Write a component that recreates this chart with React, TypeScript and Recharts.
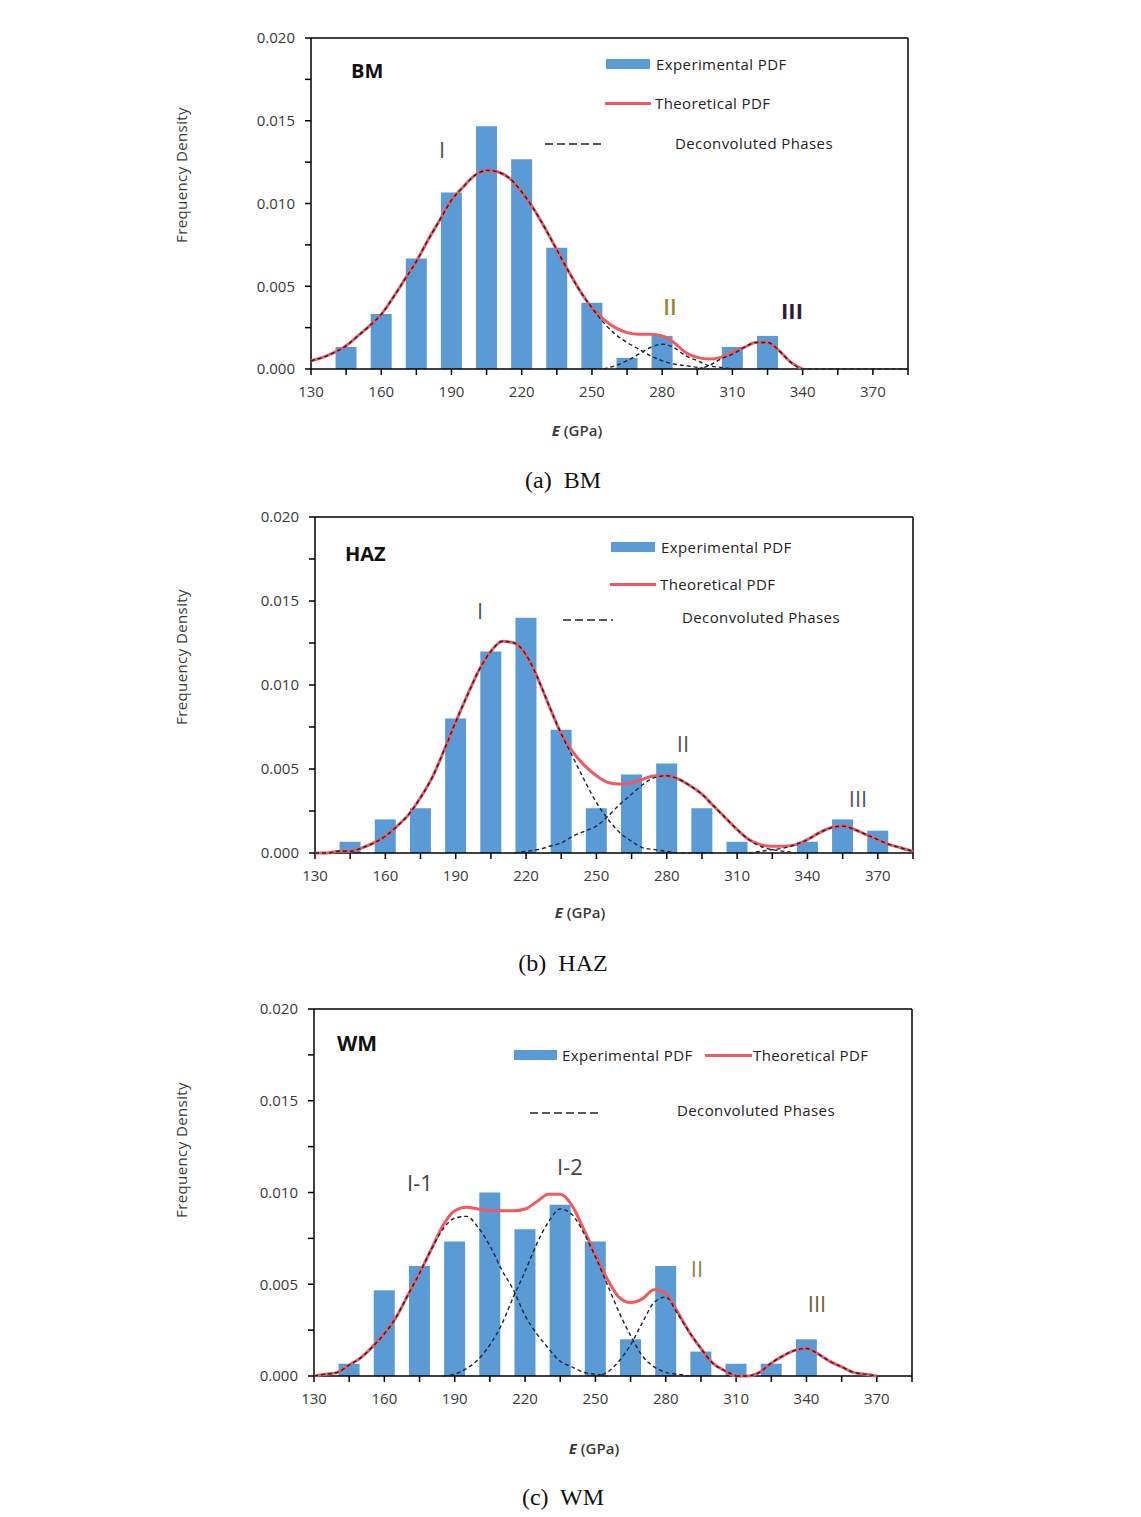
import { ComposedChart, Bar, Line, XAxis, YAxis, ReferenceLine } from 'recharts'

// E grid (GPa) for the fitted curves
const E_GRID = [
  130, 135, 140, 145, 150, 155, 160, 165, 170, 175,
  180, 185, 190, 195, 200, 205, 210, 215, 220, 225,
  230, 235, 240, 245, 250, 255, 260, 265, 270, 275,
  280, 285, 290, 295, 300, 305, 310, 315, 320, 325,
  330, 335, 340, 345, 350, 355, 360, 365, 370, 375,
  380, 385,
]

// histogram bin centres
const BIN_E = [145, 160, 175, 190, 205, 220, 235, 250, 265, 280, 295, 310, 325, 340, 355, 370]

const X_TICKS = [130, 145, 160, 175, 190, 205, 220, 235, 250, 265, 280, 295, 310, 325, 340, 355, 370, 385]
const Y_TICKS = [0, 0.0025, 0.005, 0.0075, 0.01, 0.0125, 0.015, 0.0175, 0.02]

// ---- BM ----
const BM_EXP = [0.00133, 0.00333, 0.00667, 0.01067, 0.01467, 0.01267, 0.00733, 0.004, 0.00067, 0.002, 0, 0.00133, 0.002, 0, 0, 0]
const BM_THEO = [
  0.0005, 0.0007, 0.001, 0.0014, 0.002, 0.0026, 0.0033, 0.0043, 0.0054, 0.0065,
  0.0078, 0.009, 0.0102, 0.011, 0.0117, 0.012, 0.0119, 0.0115, 0.0107, 0.0097,
  0.0085, 0.0072, 0.0059, 0.0047, 0.0037, 0.003, 0.0025, 0.0022, 0.0021, 0.0021,
  0.002, 0.0016, 0.001, 0.0007, 0.0006, 0.0007, 0.001, 0.0013, 0.0016, 0.0016,
  0.0011, 0.0004, 0, null, null, null, null, null, null, null,
  null, null,
]
const BM_P1 = [
  0.0005, 0.0007, 0.001, 0.0014, 0.002, 0.0026, 0.0033, 0.0043, 0.0054, 0.0065,
  0.0078, 0.009, 0.0102, 0.011, 0.0117, 0.012, 0.0119, 0.0115, 0.0107, 0.0097,
  0.0085, 0.0072, 0.0059, 0.0047, 0.0037, 0.0028, 0.0021, 0.0016, 0.0012, 0.0008,
  0.0005, 0.0003, 0.0002, 0.0001, 0, null, null, null, null, null,
  null, null, null, null, null, null, null, null, null, null,
  null, null,
]
const BM_P2 = [
  null, null, null, null, null, null, null, null, null, null,
  null, null, null, null, null, null, null, null, null, null,
  null, null, null, null, null, 0, 0.0002, 0.0005, 0.0009, 0.0013,
  0.0015, 0.0013, 0.0008, 0.0005, 0.0002, 0.0001, 0, null, null, null,
  null, null, null, null, null, null, null, null, null, null,
  null, null,
]
const BM_P3 = [
  null, null, null, null, null, null, null, null, null, null,
  null, null, null, null, null, null, null, null, null, null,
  null, null, null, null, null, null, null, null, null, null,
  null, null, null, 0, 0.0002, 0.0006, 0.0009, 0.0013, 0.0016, 0.0016,
  0.0011, 0.0004, 0, 0, 0, 0, 0, 0, 0, 0,
  0, 0,
]

// ---- HAZ ----
const HAZ_EXP = [0.00067, 0.002, 0.00267, 0.008, 0.012, 0.014, 0.00733, 0.00267, 0.00467, 0.00533, 0.00267, 0.00067, 0, 0.00067, 0.002, 0.00133]
const HAZ_THEO = [
  0, 0, 0.0001, 0.0001, 0.0003, 0.0006, 0.001, 0.0016, 0.0023, 0.0033,
  0.0045, 0.0061, 0.0078, 0.0094, 0.0109, 0.012, 0.0126, 0.0125, 0.0118, 0.0104,
  0.0087, 0.0071, 0.006, 0.0052, 0.0046, 0.0042, 0.0041, 0.0042, 0.0044, 0.0046,
  0.0046, 0.0044, 0.004, 0.0035, 0.0028, 0.0021, 0.0014, 0.0008, 0.0005, 0.0004,
  0.0004, 0.0005, 0.0008, 0.0012, 0.0015, 0.0016, 0.0014, 0.0011, 0.0008, 0.0005,
  0.0003, 0.0001,
]
const HAZ_P1 = [
  0, 0, 0.0001, 0.0001, 0.0003, 0.0006, 0.001, 0.0016, 0.0023, 0.0033,
  0.0045, 0.0061, 0.0078, 0.0094, 0.0109, 0.012, 0.0126, 0.0125, 0.0118, 0.0104,
  0.0087, 0.0071, 0.0057, 0.0043, 0.003, 0.002, 0.0012, 0.0007, 0.0003, 0.0002,
  0.0001, 0, 0, 0, 0, null, null, null, null, null,
  null, null, null, null, null, null, null, null, null, null,
  null, null,
]
const HAZ_P2 = [
  null, null, null, null, null, null, null, null, null, null,
  null, null, null, null, null, null, null, 0, 0.0001, 0.0002,
  0.0004, 0.0006, 0.001, 0.0013, 0.0016, 0.0022, 0.0029, 0.0035, 0.0041, 0.0045,
  0.0046, 0.0044, 0.004, 0.0035, 0.0028, 0.0021, 0.0014, 0.0008, 0.0004, 0.0002,
  0.0001, 0, null, null, null, null, null, null, null, null,
  null, null,
]
const HAZ_P3 = [
  null, null, null, null, null, null, null, null, null, null,
  null, null, null, null, null, null, null, null, null, null,
  null, null, null, null, null, null, null, null, null, null,
  null, null, null, null, null, null, null, 0, 0.0001, 0.0002,
  0.0003, 0.0005, 0.0008, 0.0012, 0.0015, 0.0016, 0.0014, 0.0011, 0.0008, 0.0005,
  0.0003, 0.0001,
]

// ---- WM ----
const WM_EXP = [0.00067, 0.00467, 0.006, 0.00733, 0.01, 0.008, 0.00933, 0.00733, 0.002, 0.006, 0.00133, 0.00067, 0.00067, 0.002, 0, 0]
const WM_THEO = [
  0, 0.0001, 0.0002, 0.0006, 0.001, 0.0016, 0.0023, 0.0032, 0.0044, 0.0056,
  0.0069, 0.0082, 0.009, 0.0092, 0.0091, 0.009, 0.009, 0.009, 0.0091, 0.0095,
  0.0099, 0.0099, 0.0093, 0.008, 0.0066, 0.0053, 0.0043, 0.0040, 0.0042, 0.0047,
  0.0045, 0.0035, 0.0024, 0.0015, 0.0007, 0.0003, 0, 0, 0.0002, 0.0007,
  0.0011, 0.0014, 0.0015, 0.0012, 0.0008, 0.0005, 0.0002, 0.0001, 0, null,
  null, null,
]
const WM_P1 = [
  0, 0.0001, 0.0002, 0.0006, 0.001, 0.0016, 0.0023, 0.0032, 0.0044, 0.0056,
  0.0069, 0.008, 0.0086, 0.0087, 0.0081, 0.0071, 0.0058, 0.0047, 0.0033, 0.0023,
  0.0015, 0.0008, 0.0005, 0.0002, 0.0001, 0, null, null, null, null,
  null, null, null, null, null, null, null, null, null, null,
  null, null, null, null, null, null, null, null, null, null,
  null, null,
]
const WM_P2 = [
  null, null, null, null, null, null, null, null, null, null,
  null, 0, 0.0001, 0.0004, 0.0009, 0.0017, 0.0028, 0.0043, 0.0057, 0.0072,
  0.0084, 0.0091, 0.0088, 0.0078, 0.0065, 0.005, 0.0035, 0.0022, 0.0011, 0.0005,
  0.0002, 0.0001, 0, null, null, null, null, null, null, null,
  null, null, null, null, null, null, null, null, null, null,
  null, null,
]
const WM_P3 = [
  null, null, null, null, null, null, null, null, null, null,
  null, null, null, null, null, null, null, null, null, null,
  null, null, null, null, 0, 0.0002, 0.0008, 0.0017, 0.0029, 0.004,
  0.0043, 0.0034, 0.0024, 0.0015, 0.0007, 0.0003, 0, null, null, null,
  null, null, null, null, null, null, null, null, null, null,
  null, null,
]
const WM_P4 = [
  null, null, null, null, null, null, null, null, null, null,
  null, null, null, null, null, null, null, null, null, null,
  null, null, null, null, null, null, null, null, null, null,
  null, null, null, null, null, null, 0, 0, 0.0002, 0.0007,
  0.0011, 0.0014, 0.0015, 0.0012, 0.0008, 0.0005, 0.0002, 0.0001, 0, null,
  null, null,
]

type Row = { [k: string]: number | null }

const buildBars = (exp: number[]): Row[] => BIN_E.map((e, i) => ({ e, exp: exp[i] }))

const buildCurves = (theo: (number | null)[], phases: (number | null)[][]): Row[] =>
  E_GRID.map((e, i) => {
    const row: Row = { e, theo: theo[i] }
    phases.forEach((p, k) => { row['p' + k] = p[i] })
    return row
  })

const FONT = '"Open Sans", sans-serif'
const BLUE = '#5b9bd5'
const RED = '#ee5a5f'
const TXT = '#3a3a3a'

const tickStyle = { fontSize: 15, fill: TXT, fontFamily: FONT }

interface ChartProps {
  bars: Row[]
  curves: Row[]
  nPhases: number
  left: number
  top: number
  width: number
  height: number
}

const PAD_L = 90
const PAD_T = 10
const PAD_R = 10
const X_H = 40

// bars + axes underneath, curves drawn by a second chart with identical geometry on top
function PdfChart({ bars, curves, nPhases, left, top, width, height }: ChartProps) {
  const w = width + PAD_L + PAD_R
  const h = height + PAD_T + X_H
  const margin = { top: PAD_T, right: PAD_R, bottom: 0, left: 0 }
  return (
    <div style={{ position: 'absolute', left: left - PAD_L, top: top - PAD_T, width: w, height: h }}>
      <div style={{ position: 'absolute', left: 0, top: 0 }}>
        <ComposedChart width={w} height={h} data={bars} margin={margin}>
          <XAxis dataKey="e" type="number" domain={[130, 385]} ticks={X_TICKS} interval={0} height={X_H}
            tickFormatter={(v: number) => ((v - 130) % 30 === 0 ? String(v) : '')}
            tick={tickStyle} tickSize={6} tickMargin={11}
            axisLine={{ stroke: '#000', strokeWidth: 1.5 }} tickLine={{ stroke: '#000', strokeWidth: 1.5 }} />
          <YAxis type="number" domain={[0, 0.02]} ticks={Y_TICKS} interval={0} width={PAD_L}
            tickFormatter={(v: number) => (Math.round(v / 0.0025) % 2 === 0 ? v.toFixed(3) : '')}
            tick={tickStyle} tickSize={6} tickMargin={10}
            axisLine={{ stroke: '#000', strokeWidth: 1.5 }} tickLine={{ stroke: '#000', strokeWidth: 1.5 }} />
          <ReferenceLine y={0.02} stroke="#000" strokeWidth={1.5} />
          <ReferenceLine x={385} stroke="#000" strokeWidth={1.5} />
          <Bar dataKey="exp" fill={BLUE} barSize={21} isAnimationActive={false} />
        </ComposedChart>
      </div>
      <div style={{ position: 'absolute', left: 0, top: 0 }}>
        <ComposedChart width={w} height={h} data={curves} margin={margin}>
          <XAxis dataKey="e" type="number" domain={[130, 385]} height={X_H}
            tick={false} tickLine={false} axisLine={false} />
          <YAxis type="number" domain={[0, 0.02]} width={PAD_L}
            tick={false} tickLine={false} axisLine={false} />
          <Line dataKey="theo" type="monotone" stroke={RED} strokeWidth={3} dot={false} isAnimationActive={false} />
          {Array.from({ length: nPhases }, (_, k) => (
            <Line key={k} dataKey={'p' + k} type="monotone" stroke="#1f2233" strokeWidth={1.4}
              strokeDasharray="4 3" dot={false} isAnimationActive={false} />
          ))}
        </ComposedChart>
      </div>
    </div>
  )
}

const abs = (x: number, y: number, extra: React.CSSProperties = {}): React.CSSProperties => ({
  position: 'absolute', left: x, top: y, transform: 'translate(-50%, -50%)', whiteSpace: 'nowrap',
  fontFamily: FONT, color: TXT, ...extra,
})

const absL = (x: number, y: number, extra: React.CSSProperties = {}): React.CSSProperties => ({
  position: 'absolute', left: x, top: y, transform: 'translateY(-50%)', whiteSpace: 'nowrap',
  fontFamily: FONT, color: '#222', fontSize: 15, letterSpacing: 0.4, ...extra,
})

function Dashes({ x, y, w }: { x: number; y: number; w: number }) {
  return (
    <svg style={{ position: 'absolute', left: x, top: y - 2 }} width={w} height={4}>
      <line x1={0} y1={2} x2={w} y2={2} stroke="#222" strokeWidth={1.5} strokeDasharray="8 4" />
    </svg>
  )
}

function Swatch({ x, y, w }: { x: number; y: number; w: number }) {
  return <div style={{ position: 'absolute', left: x, top: y - 5, width: w, height: 10, background: BLUE }} />
}

function RedLine({ x, y, w }: { x: number; y: number; w: number }) {
  return <div style={{ position: 'absolute', left: x, top: y - 1.5, width: w, height: 3, background: RED }} />
}

function AxisTitles({ yMid, xMid, xY, capY, cap }: { yMid: number; xMid: number; xY: number; capY: number; cap: string }) {
  return (
    <>
      <div style={abs(181, yMid, { transform: 'translate(-50%, -50%) rotate(-90deg)', fontSize: 15, letterSpacing: 0.4 })}>
        Frequency Density
      </div>
      <div style={abs(xMid, xY, { fontSize: 15, fontWeight: 600 })}>
        <span style={{ fontStyle: 'italic', fontWeight: 700 }}>E</span> (GPa)
      </div>
      <div style={abs(563, capY, { fontFamily: '"Liberation Serif", serif', fontSize: 24, color: '#111', wordSpacing: 6 })}>
        {cap}
      </div>
    </>
  )
}

const bmBars = buildBars(BM_EXP)
const bmCurves = buildCurves(BM_THEO, [BM_P1, BM_P2, BM_P3])
const hazBars = buildBars(HAZ_EXP)
const hazCurves = buildCurves(HAZ_THEO, [HAZ_P1, HAZ_P2, HAZ_P3])
const wmBars = buildBars(WM_EXP)
const wmCurves = buildCurves(WM_THEO, [WM_P1, WM_P2, WM_P3, WM_P4])

export default function App() {
  return (
    <div style={{ position: 'absolute', left: 0, top: 0, width: 1141, height: 1517, background: '#fff' }}>
      {/* (a) BM */}
      <PdfChart bars={bmBars} curves={bmCurves} nPhases={3} left={311} top={38} width={597} height={331} />
      <div style={absL(351, 70, { fontSize: 20, fontWeight: 700, color: '#111', letterSpacing: 0 })}>BM</div>
      <Swatch x={606} y={64} w={44} />
      <div style={absL(656, 64)}>Experimental PDF</div>
      <RedLine x={605} y={103} w={46} />
      <div style={absL(655, 103)}>Theoretical PDF</div>
      <Dashes x={545} y={144} w={57} />
      <div style={absL(675, 143)}>Deconvoluted Phases</div>
      <div style={abs(442, 149, { fontSize: 22, color: '#555' })}>I</div>
      <div style={abs(670, 306, { fontSize: 22, color: '#9b8531', fontWeight: 600 })}>II</div>
      <div style={abs(792, 310, { fontSize: 22, color: '#2d1b3d', fontWeight: 700 })}>III</div>
      <AxisTitles yMid={175} xMid={577} xY={430} capY={480} cap="(a) BM" />

      {/* (b) HAZ */}
      <PdfChart bars={hazBars} curves={hazCurves} nPhases={3} left={315} top={517} width={598} height={336} />
      <div style={absL(345, 553, { fontSize: 20, fontWeight: 700, color: '#111', letterSpacing: 0 })}>HAZ</div>
      <Swatch x={611} y={547} w={44} />
      <div style={absL(661, 547)}>Experimental PDF</div>
      <RedLine x={610} y={584} w={46} />
      <div style={absL(660, 584)}>Theoretical PDF</div>
      <Dashes x={563} y={620} w={50} />
      <div style={absL(682, 617)}>Deconvoluted Phases</div>
      <div style={abs(480, 610, { fontSize: 22, color: '#555' })}>I</div>
      <div style={abs(683, 743, { fontSize: 22, color: '#555' })}>II</div>
      <div style={abs(858, 798, { fontSize: 22, color: '#555' })}>III</div>
      <AxisTitles yMid={657} xMid={580} xY={912} capY={963} cap="(b) HAZ" />

      {/* (c) WM */}
      <PdfChart bars={wmBars} curves={wmCurves} nPhases={4} left={314} top={1009} width={598} height={367} />
      <div style={absL(337, 1043, { fontSize: 21, fontWeight: 700, color: '#111', letterSpacing: 0 })}>WM</div>
      <Swatch x={514} y={1055} w={43} />
      <div style={absL(562, 1055)}>Experimental PDF</div>
      <RedLine x={705} y={1055} w={47} />
      <div style={absL(753, 1055)}>Theoretical PDF</div>
      <Dashes x={530} y={1113} w={70} />
      <div style={absL(677, 1110)}>Deconvoluted Phases</div>
      <div style={abs(420, 1182, { fontSize: 22, color: '#444' })}>I-1</div>
      <div style={abs(570, 1166, { fontSize: 22, color: '#444' })}>I-2</div>
      <div style={abs(697, 1268, { fontSize: 22, color: '#8f7f3f' })}>II</div>
      <div style={abs(817, 1303, { fontSize: 22, color: '#6b6030' })}>III</div>
      <AxisTitles yMid={1150} xMid={594} xY={1448} capY={1497} cap="(c) WM" />
    </div>
  )
}
